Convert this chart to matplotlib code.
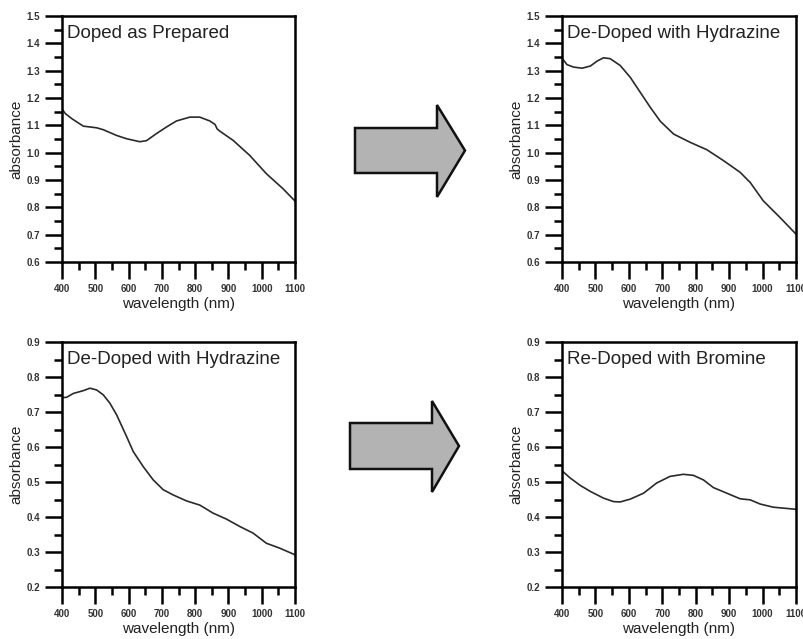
import matplotlib
matplotlib.use("Agg")
import matplotlib.pyplot as plt
import numpy as np
from matplotlib.patches import Polygon
from matplotlib.ticker import MultipleLocator

plt.rcParams['font.family'] = ['Liberation Sans', 'DejaVu Sans']

# top left: doped as prepared
wl_a = [400, 410, 430, 464, 504, 524, 564, 594, 634, 654, 684, 714, 744, 784,
        814, 844, 860, 866, 874, 914, 964, 1014, 1064, 1100]
abs_a = [1.160, 1.143, 1.124, 1.097, 1.091, 1.084, 1.063, 1.051, 1.040, 1.044,
         1.07, 1.094, 1.116, 1.130, 1.130, 1.116, 1.103, 1.087, 1.079, 1.045,
         0.990, 0.923, 0.868, 0.823]

# top right: de-doped with hydrazine
wl_b = [400, 415, 435, 460, 485, 505, 524, 544, 574, 604, 634, 664, 694, 734,
        783, 833, 883, 933, 963, 1002, 1052, 1100]
abs_b = [1.346, 1.322, 1.313, 1.309, 1.317, 1.335, 1.347, 1.344, 1.319, 1.276,
         1.221, 1.166, 1.115, 1.068, 1.038, 1.011, 0.971, 0.928, 0.891, 0.824,
         0.763, 0.702]

# bottom left: de-doped with hydrazine
wl_c = [400, 414, 434, 464, 484, 504, 524, 544, 564, 594, 614, 644, 674, 704,
        734, 774, 814, 854, 894, 934, 974, 1014, 1054, 1100]
abs_c = [0.741, 0.742, 0.753, 0.761, 0.768, 0.763, 0.749, 0.725, 0.692, 0.630,
         0.587, 0.544, 0.506, 0.478, 0.463, 0.446, 0.434, 0.411, 0.394, 0.373,
         0.354, 0.325, 0.311, 0.292]

# bottom right: re-doped with bromine
wl_d = [400, 425, 455, 485, 524, 554, 574, 604, 644, 683, 723, 763, 793, 823,
        853, 893, 933, 963, 993, 1032, 1100]
abs_d = [0.532, 0.511, 0.490, 0.473, 0.454, 0.444, 0.443, 0.451, 0.468, 0.497,
         0.516, 0.522, 0.519, 0.506, 0.484, 0.468, 0.452, 0.449, 0.437, 0.428,
         0.422]

titles = ["Doped as Prepared", "De-Doped with Hydrazine",
          "De-Doped with Hydrazine", "Re-Doped with Bromine"]
ylims = [(0.6, 1.5), (0.6, 1.5), (0.2, 0.9), (0.2, 0.9)]
series = [(wl_a, abs_a), (wl_b, abs_b), (wl_c, abs_c), (wl_d, abs_d)]

W, H = 804, 639
fig = plt.figure(figsize=(W / 100, H / 100), dpi=100)

# axes boxes in pixels: left, top, right, bottom
boxes = [(62, 16, 295, 262), (562, 16, 796, 262),
         (62, 342, 295, 587), (562, 342, 796, 587)]

for box, (x, y), title, yl in zip(boxes, series, titles, ylims):
    l, t, r, b = box
    ax = fig.add_axes([l / W, 1 - b / H, (r - l) / W, (b - t) / H])
    ax.plot(x, y, color='#2a2a2a', lw=1.2)
    ax.set_xlim(400, 1100)
    ax.set_ylim(*yl)
    ax.xaxis.set_major_locator(MultipleLocator(100))
    ax.xaxis.set_minor_locator(MultipleLocator(50))
    ax.yaxis.set_major_locator(MultipleLocator(0.1))
    ax.yaxis.set_minor_locator(MultipleLocator(0.05))
    ax.yaxis.set_major_formatter(plt.FuncFormatter(lambda v, p: f"{v:.1f}"))
    ax.tick_params(which='major', direction='out', length=12, width=1.8,
                   labelsize=7, colors='black', labelcolor='#333333', pad=4)
    ax.tick_params(which='minor', direction='out', length=6, width=1.8)
    for lab in ax.get_xticklabels() + ax.get_yticklabels():
        lab.set_fontweight('bold')
    for s in ax.spines.values():
        s.set_linewidth(1.8)
    ax.set_xlabel("wavelength (nm)", fontsize=11, color='#222222', labelpad=2)
    ax.set_ylabel("absorbance", fontsize=11, color='#222222', labelpad=2)
    ax.text(0.02, 0.965, title, transform=ax.transAxes, fontsize=13.5,
            va='top', ha='left', color='#222222')

# grey block arrows between the panels
def block_arrow(x0, ytop, ybot, xh, hy0, hy1, tip):
    pts = [(x0, ytop), (xh, ytop), (xh, hy0), (tip, (ytop + ybot) / 2),
           (xh, hy1), (xh, ybot), (x0, ybot)]
    pts = [(px / W, 1 - py / H) for px, py in pts]
    fig.patches.append(Polygon(pts, closed=True, transform=fig.transFigure,
                               facecolor='#b3b3b3', edgecolor='#111111',
                               lw=1.8, joinstyle='miter'))

block_arrow(355, 128, 173, 437, 105, 197, 465)
block_arrow(350, 423, 469, 432, 401, 492, 459)

fig.savefig("out.png", dpi=100)
